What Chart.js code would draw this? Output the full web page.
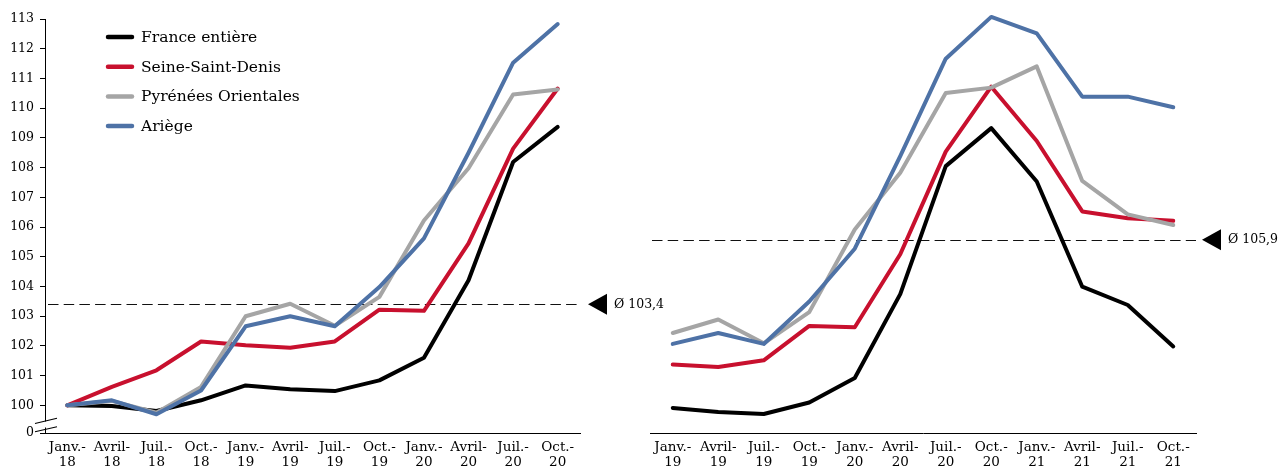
<!DOCTYPE html>
<html lang="fr">
<head>
<meta charset="utf-8">
<title>Indices par département</title>
<script src="https://cdn.jsdelivr.net/npm/chart.js@4.4.1/dist/chart.umd.min.js"></script>
<style>
  html, body { margin: 0; padding: 0; background: #ffffff; }
  #wrap { position: relative; width: 1286px; height: 470px; overflow: hidden; }
  #leftChart { position: absolute; left: 0; top: 0; }
  #rightChart { position: absolute; left: 645px; top: 0; }
</style>
</head>
<body>
<div id="wrap">
  <canvas id="leftChart" width="690" height="470"></canvas>
  <canvas id="rightChart" width="641" height="470"></canvas>
</div>
<script>
// Series names and colours
const seriesNames = ['France entière', 'Seine-Saint-Denis', 'Pyrénées Orientales', 'Ariège'];
const seriesColors = ['#000000', '#C8102E', '#A5A5A5', '#4E72A6'];

// Left panel: Janv. 2018 – Oct. 2020 (base 100 = Janv. 2018)
const leftCategories = [
  ['Janv.-', '18'], ['Avril-', '18'], ['Juil.-', '18'], ['Oct.-', '18'],
  ['Janv.-', '19'], ['Avril-', '19'], ['Juil.-', '19'], ['Oct.-', '19'],
  ['Janv.-', '20'], ['Avril-', '20'], ['Juil.-', '20'], ['Oct.-', '20']
];
const leftFrance  = [100, 99.98, 99.81, 100.17, 100.67, 100.54, 100.48, 100.84, 101.60, 104.21, 108.19, 109.37];
const leftSeine   = [100, 100.62, 101.18, 102.15, 102.02, 101.94, 102.15, 103.22, 103.18, 105.45, 108.64, 110.66];
const leftPyrenees = [100, 100.15, 99.75, 100.62, 103.00, 103.42, 102.68, 103.65, 106.22, 107.98, 110.46, 110.63];
const leftAriege  = [100, 100.17, 99.70, 100.50, 102.66, 103.00, 102.66, 103.98, 105.62, 108.50, 111.53, 112.83];
const leftAverage = 103.4;

// Right panel: Janv. 2019 – Oct. 2021
const rightCategories = [
  ['Janv.-', '19'], ['Avril-', '19'], ['Juil.-', '19'], ['Oct.-', '19'],
  ['Janv.-', '20'], ['Avril-', '20'], ['Juil.-', '20'], ['Oct.-', '20'],
  ['Janv.-', '21'], ['Avril-', '21'], ['Juil.-', '21'], ['Oct.-', '21']
];
const rightFrance  = [100.67, 100.54, 100.48, 100.84, 101.60, 104.21, 108.19, 109.37, 107.71, 104.44, 103.87, 102.58];
const rightSeine   = [102.02, 101.94, 102.15, 103.22, 103.18, 105.45, 108.64, 110.66, 108.97, 106.78, 106.57, 106.49];
const rightPyrenees = [103.00, 103.42, 102.68, 103.65, 106.22, 107.98, 110.46, 110.63, 111.29, 107.73, 106.69, 106.36];
const rightAriege  = [102.66, 103.00, 102.66, 103.98, 105.62, 108.50, 111.53, 112.83, 112.32, 110.35, 110.35, 110.02];
const rightAverage = 105.9;

// Left value axis: 100…113, with a broken segment down to "0"
const leftYTicks = [100, 101, 102, 103, 104, 105, 106, 107, 108, 109, 110, 111, 112, 113];
const axisZeroPosition = 99.07;   // where the "0" label sits below the break
const axisZeroLabel = '0';

const FONT = "'DejaVu Serif', serif";
Chart.defaults.font.family = FONT;
Chart.defaults.color = '#000000';

function makeDatasets(valuesList) {
  return valuesList.map((values, i) => ({
    label: seriesNames[i],
    data: values,
    borderColor: seriesColors[i],
    backgroundColor: seriesColors[i],
    borderWidth: 4,
    borderCapStyle: 'round',
    borderJoinStyle: 'round',
    pointRadius: 0,
    pointHoverRadius: 0,
    tension: 0,
    fill: false,
    clip: false,
    order: valuesList.length - i
  }));
}

function formatAverage(v) {
  return 'Ø ' + v.toFixed(1).replace('.', ',');
}

// Dashed average line, arrow marker with its value, axis break and legend
const decorations = {
  id: 'decorations',
  beforeDatasetsDraw(chart, args, opts) {
    const { ctx, chartArea } = chart;
    const y = chart.scales.y.getPixelForValue(opts.average);
    ctx.save();
    ctx.strokeStyle = '#111111';
    ctx.lineWidth = 1;
    ctx.setLineDash([10.5, 5.2]);
    ctx.beginPath();
    ctx.moveTo(chartArea.left + opts.dashInset, Math.round(y) + 0.5);
    ctx.lineTo(chartArea.right, Math.round(y) + 0.5);
    ctx.stroke();
    ctx.restore();
  },
  afterDraw(chart, args, opts) {
    const { ctx, chartArea } = chart;
    const y = chart.scales.y.getPixelForValue(opts.average);
    ctx.save();
    // arrow marker
    const tipX = chartArea.right + opts.arrowGap;
    ctx.fillStyle = '#000000';
    ctx.beginPath();
    ctx.moveTo(tipX, y);
    ctx.lineTo(tipX + 19, y - 10.5);
    ctx.lineTo(tipX + 19, y + 10.5);
    ctx.closePath();
    ctx.fill();
    ctx.font = '12.5px ' + FONT;
    ctx.textBaseline = 'middle';
    ctx.textAlign = 'left';
    ctx.fillText(formatAverage(opts.average), tipX + 26, y);

    // break on the value axis
    if (opts.axisBreak) {
      const ax = chartArea.left;
      const b = chartArea.bottom;
      ctx.fillStyle = '#ffffff';
      ctx.fillRect(ax - 2, b - 11.5, 4, 6);
      ctx.strokeStyle = '#000000';
      ctx.lineWidth = 1.1;
      ctx.beginPath();
      ctx.moveTo(ax - 10, b - 9.5);
      ctx.lineTo(ax + 12, b - 14.7);
      ctx.moveTo(ax - 10, b - 1.3);
      ctx.lineTo(ax + 12, b - 6.3);
      ctx.stroke();
    }

    // legend
    if (opts.legend) {
      ctx.font = '15.5px ' + FONT;
      ctx.textBaseline = 'middle';
      ctx.lineCap = 'round';
      ctx.lineWidth = 4.5;
      chart.data.datasets.forEach((ds, i) => {
        const ly = opts.legend.top + i * opts.legend.step;
        const lx = chartArea.left + opts.legend.left;
        ctx.strokeStyle = ds.borderColor;
        ctx.beginPath();
        ctx.moveTo(lx, ly);
        ctx.lineTo(lx + 24, ly);
        ctx.stroke();
        ctx.fillStyle = '#000000';
        ctx.fillText(ds.label, lx + 33, ly + 1);
      });
    }
    ctx.restore();
  }
};

const xAxisBase = {
  offset: true,
  grid: { display: false, drawTicks: false },
  border: { display: true, color: '#000000', width: 1 },
  ticks: {
    font: { size: 13.5, lineHeight: 1.12 },
    color: '#000000',
    padding: 7,
    maxRotation: 0,
    autoSkip: false
  },
  afterFit(scale) { scale.height = 37; }
};

new Chart(document.getElementById('leftChart'), {
  type: 'line',
  data: {
    labels: leftCategories,
    datasets: makeDatasets([leftFrance, leftSeine, leftPyrenees, leftAriege])
  },
  options: {
    responsive: false,
    animation: false,
    events: [],
    layout: { padding: { left: 0, right: 110, top: 19, bottom: 0 } },
    scales: {
      x: xAxisBase,
      y: {
        min: axisZeroPosition,
        max: 113,
        afterBuildTicks(scale) {
          scale.ticks = [{ value: axisZeroPosition }].concat(leftYTicks.map(v => ({ value: v })));
        },
        ticks: {
          font: { size: 12.5 },
          color: '#000000',
          padding: 6,
          autoSkip: false,
          callback: (v) => (v === axisZeroPosition ? axisZeroLabel : String(v))
        },
        grid: { drawOnChartArea: false, drawTicks: true, tickLength: 5, color: '#000000', lineWidth: 1 },
        border: { display: true, color: '#000000', width: 1 },
        afterFit(scale) { scale.width = 45; }
      }
    },
    plugins: {
      legend: { display: false },
      tooltip: { enabled: false },
      decorations: {
        average: leftAverage,
        dashInset: 3,
        arrowGap: 8,
        axisBreak: true,
        legend: { left: 63, top: 37, step: 29.7 }
      }
    }
  },
  plugins: [decorations]
});

new Chart(document.getElementById('rightChart'), {
  type: 'line',
  data: {
    labels: rightCategories,
    datasets: makeDatasets([rightFrance, rightSeine, rightPyrenees, rightAriege])
  },
  options: {
    responsive: false,
    animation: false,
    events: [],
    layout: { padding: { left: 5, right: 90, top: 14, bottom: 0 } },
    scales: {
      x: xAxisBase,
      y: {
        display: false,
        min: 99.89,
        max: 112.92
      }
    },
    plugins: {
      legend: { display: false },
      tooltip: { enabled: false },
      decorations: {
        average: rightAverage,
        dashInset: 2,
        arrowGap: 6,
        axisBreak: false,
        legend: null
      }
    }
  },
  plugins: [decorations]
});
</script>
</body>
</html>
